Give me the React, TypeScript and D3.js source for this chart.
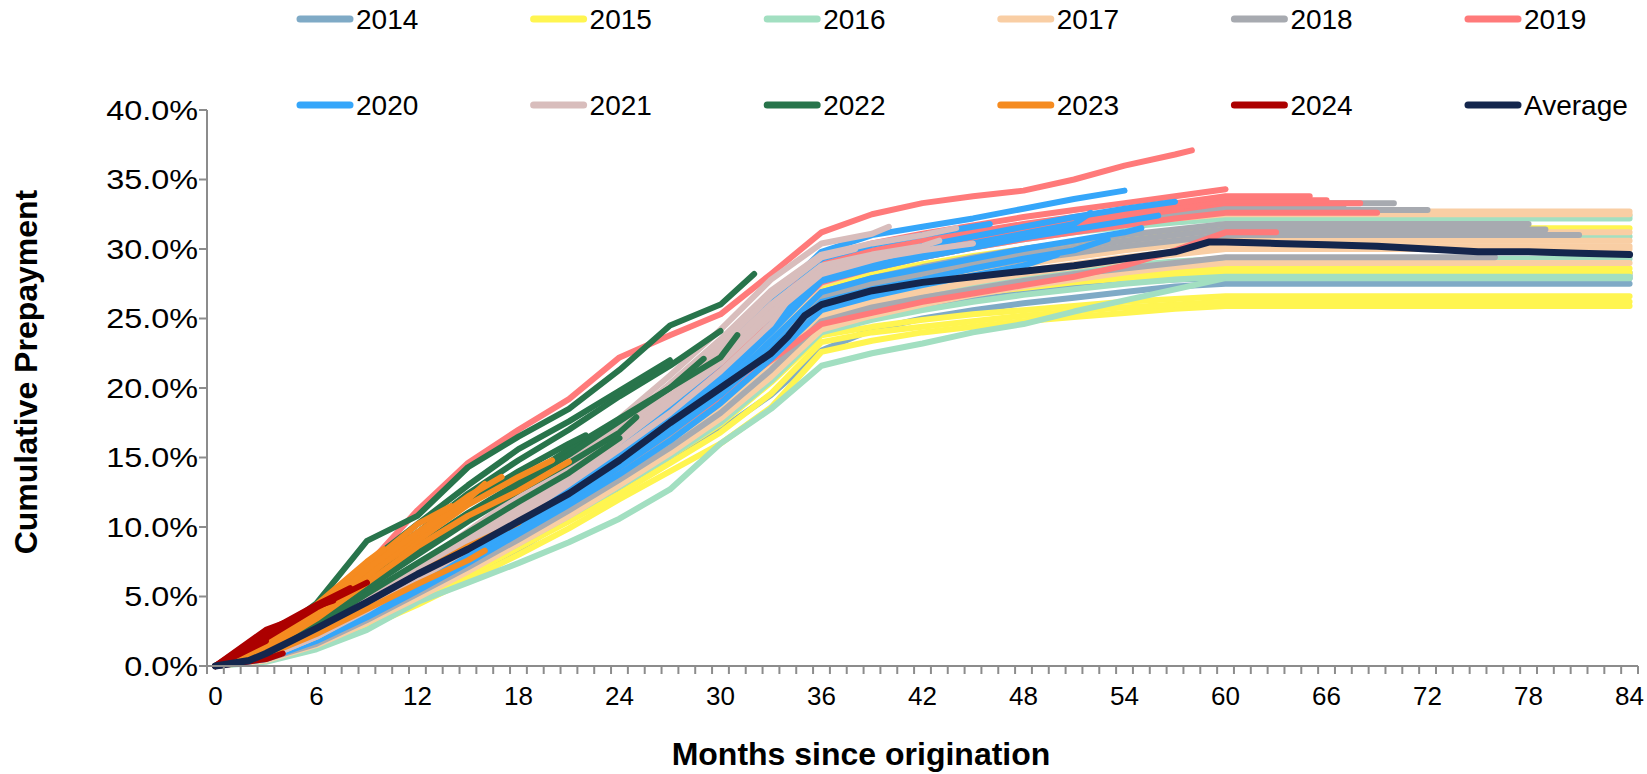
import React from "react";
import * as d3 from "d3";

// ---------- DATA ----------
const MONTH_GRID = [0, 3, 6, 9, 12, 15, 18, 21, 24, 27, 30, 33, 36, 39, 42, 45, 48, 51, 54, 57, 60];
const X_TICK_LABELS = [0, 6, 12, 18, 24, 30, 36, 42, 48, 54, 60, 66, 72, 78, 84];
const Y_TICKS = [0, 5, 10, 15, 20, 25, 30, 35, 40];
const LEGEND_ROW1 = ["2014", "2015", "2016", "2017", "2018", "2019"];
const LEGEND_ROW2 = ["2020", "2021", "2022", "2023", "2024", "Average"];

const Y2014 = [
  { end: 84, v: [0, 0.5, 1.6, 3.2, 5.0, 6.8, 8.6, 10.5, 12.6, 14.8, 17.0, 19.5, 22.7, 24.2, 25.0, 25.6, 26.1, 26.5, 26.9, 27.3, 27.5] },
  { end: 84, v: [0, 0.6, 1.9, 3.6, 5.4, 7.2, 9.2, 11.2, 13.4, 15.8, 18.4, 21.6, 25.0, 25.9, 26.5, 27.0, 27.4, 27.8, 28.0, 28.2, 28.3] },
  { end: 84, v: [0, 0.4, 1.4, 3.0, 4.8, 6.6, 8.4, 10.6, 12.8, 15.2, 17.8, 21.0, 24.4, 25.3, 26.0, 26.5, 27.0, 27.3, 27.6, 27.8, 27.9] },
  { end: 84, v: [0, 0.7, 2.1, 3.9, 5.8, 7.6, 9.6, 11.6, 13.8, 16.2, 18.9, 22.0, 25.4, 26.2, 26.8, 27.2, 27.5, 27.8, 27.9, 28.0, 28.1] },
];
const Y2015 = [
  { end: 84, v: [0, 0.4, 1.3, 2.8, 4.4, 6.2, 8.0, 9.9, 12.0, 14.0, 16.0, 18.6, 22.6, 23.4, 24.0, 24.4, 24.8, 25.1, 25.4, 25.7, 25.9] },
  { end: 84, v: [0, 0.5, 1.5, 3.1, 4.8, 6.6, 8.5, 10.4, 12.4, 14.6, 16.8, 19.6, 23.3, 24.0, 24.4, 24.8, 25.2, 25.5, 25.8, 26.0, 26.2] },
  { end: 84, v: [0, 0.5, 1.6, 3.3, 5.1, 6.9, 8.8, 10.8, 12.9, 15.1, 17.4, 20.4, 23.8, 24.4, 24.9, 25.3, 25.6, 25.9, 26.2, 26.4, 26.6] },
  { end: 84, v: [0, 0.6, 1.8, 3.6, 5.5, 7.4, 9.4, 11.5, 13.8, 16.2, 18.8, 21.8, 25.2, 26.0, 26.6, 27.1, 27.5, 27.9, 28.2, 28.4, 28.6] },
  { end: 84, v: [0, 0.7, 2.1, 4.0, 6.0, 8.0, 10.2, 12.4, 14.8, 17.4, 20.2, 23.6, 27.2, 28.2, 28.9, 29.5, 30.0, 30.5, 30.9, 31.2, 31.5] },
  { end: 84, v: [0, 0.5, 1.7, 3.4, 5.3, 7.2, 9.1, 11.2, 13.4, 15.6, 18.0, 21.0, 24.6, 25.6, 26.3, 26.8, 27.2, 27.6, 27.9, 28.1, 28.3] },
];
const Y2016 = [
  { end: 84, v: [0, 0.3, 1.2, 2.6, 4.6, 6.0, 7.4, 8.9, 10.6, 12.7, 16.0, 18.5, 21.6, 22.5, 23.2, 24.0, 24.6, 25.5, 26.3, 27.1, 27.9] },
  { end: 84, v: [0, 0.5, 1.6, 3.2, 5.0, 6.9, 8.8, 10.8, 12.9, 15.1, 17.5, 20.5, 24.0, 24.9, 25.6, 26.2, 26.7, 27.1, 27.5, 27.8, 28.0] },
  { end: 84, v: [0, 0.6, 1.8, 3.5, 5.4, 7.3, 9.3, 11.4, 13.6, 16.0, 18.6, 21.7, 25.2, 26.1, 26.8, 27.4, 27.9, 28.4, 28.8, 29.1, 29.3] },
  { end: 84, v: [0, 0.6, 1.9, 3.7, 5.7, 7.7, 9.8, 12.0, 14.3, 16.8, 19.5, 22.8, 26.4, 27.4, 28.1, 28.8, 29.4, 29.9, 30.3, 30.6, 30.9] },
  { end: 84, v: [0, 0.7, 2.1, 4.0, 6.1, 8.2, 10.4, 12.7, 15.1, 17.7, 20.5, 23.9, 27.6, 28.6, 29.4, 30.1, 30.7, 31.2, 31.6, 31.9, 32.2] },
  { end: 84, v: [0, 0.7, 2.2, 4.1, 6.2, 8.4, 10.6, 12.9, 15.3, 17.9, 20.8, 24.2, 27.9, 28.9, 29.7, 30.4, 31.0, 31.5, 31.9, 32.2, 32.4] },
];
const Y2017 = [
  { end: 84, v: [0, 0.7, 2.1, 4.0, 6.1, 8.2, 10.4, 12.8, 15.2, 17.9, 20.8, 24.2, 27.8, 28.8, 29.6, 30.4, 31.0, 31.6, 32.1, 32.4, 32.7] },
  { end: 84, v: [0, 0.6, 2.0, 3.9, 6.0, 8.1, 10.3, 12.6, 15.0, 17.6, 20.5, 23.9, 27.5, 28.6, 29.4, 30.2, 30.8, 31.4, 31.9, 32.2, 32.5] },
  { end: 84, v: [0, 0.6, 1.9, 3.7, 5.7, 7.7, 9.8, 12.0, 14.3, 16.8, 19.6, 22.9, 26.4, 27.4, 28.2, 28.9, 29.5, 30.0, 30.5, 30.9, 31.2] },
  { end: 84, v: [0, 0.5, 1.8, 3.5, 5.5, 7.5, 9.6, 11.7, 14.0, 16.4, 19.0, 22.2, 25.8, 26.8, 27.6, 28.3, 28.9, 29.4, 29.9, 30.3, 30.6] },
  { end: 84, v: [0, 0.5, 1.7, 3.4, 5.3, 7.3, 9.3, 11.4, 13.6, 16.0, 18.6, 21.7, 25.3, 26.3, 27.1, 27.8, 28.4, 28.9, 29.4, 29.8, 30.2] },
  { end: 84, v: [0, 0.6, 1.8, 3.6, 5.5, 7.4, 9.4, 11.5, 13.7, 16.1, 18.7, 21.8, 25.2, 26.1, 26.9, 27.6, 28.2, 28.7, 29.2, 29.6, 30.0] },
  { end: 84, v: [0, 0.4, 1.5, 3.1, 4.9, 6.8, 8.8, 10.8, 13.0, 15.3, 17.8, 20.8, 24.2, 25.2, 26.0, 26.7, 27.3, 27.8, 28.3, 28.7, 29.0] },
];
const Y2018 = [
  { end: 70, v: [0, 0.7, 2.3, 4.3, 6.5, 8.7, 10.9, 13.2, 15.6, 18.3, 21.2, 24.7, 28.4, 29.4, 30.2, 30.9, 31.5, 32.0, 32.5, 32.9, 33.3] },
  { end: 67, v: [0, 0.7, 2.2, 4.2, 6.4, 8.6, 10.8, 13.1, 15.5, 18.1, 21.0, 24.5, 28.2, 29.2, 30.0, 30.7, 31.3, 31.8, 32.3, 32.7, 33.1] },
  { end: 72, v: [0, 0.6, 2.1, 4.0, 6.1, 8.3, 10.5, 12.8, 15.2, 17.8, 20.7, 24.1, 27.8, 28.8, 29.6, 30.3, 30.9, 31.4, 31.9, 32.4, 32.8] },
  { end: 78, v: [0, 0.6, 2.0, 3.8, 5.9, 8.0, 10.1, 12.4, 14.7, 17.2, 20.0, 23.3, 26.9, 27.9, 28.7, 29.4, 30.0, 30.5, 31.0, 31.4, 31.8] },
  { end: 79, v: [0, 0.6, 1.9, 3.7, 5.7, 7.8, 9.9, 12.1, 14.4, 16.9, 19.6, 22.9, 26.5, 27.5, 28.3, 29.0, 29.6, 30.1, 30.6, 31.0, 31.4] },
  { end: 81, v: [0, 0.5, 1.8, 3.6, 5.6, 7.6, 9.7, 11.9, 14.2, 16.6, 19.3, 22.5, 26.1, 27.1, 27.9, 28.6, 29.2, 29.7, 30.2, 30.6, 31.0] },
  { end: 76, v: [0, 0.5, 1.6, 3.3, 5.2, 7.1, 9.1, 11.2, 13.4, 15.7, 18.2, 21.3, 24.8, 25.8, 26.5, 27.1, 27.7, 28.2, 28.6, 29.0, 29.4] },
];
const Y2019 = [
  { end: 69, v: [0, 0.6, 2.1, 4.0, 6.2, 8.4, 10.7, 13.0, 15.4, 18.0, 20.9, 24.2, 27.6, 28.6, 29.4, 30.1, 30.7, 31.2, 31.7, 32.2, 32.6] },
  { end: 68, v: [0, 0.7, 2.2, 4.2, 6.4, 8.6, 10.9, 13.2, 15.7, 18.3, 21.2, 24.6, 28.1, 29.1, 29.9, 30.6, 31.2, 31.8, 32.3, 32.8, 33.3] },
  { end: 66, v: [0, 0.7, 2.3, 4.3, 6.5, 8.7, 11.0, 13.3, 15.8, 18.5, 21.4, 24.9, 28.5, 29.5, 30.3, 30.9, 31.5, 32.0, 32.5, 33.0, 33.5] },
  { end: 65, v: [0, 0.7, 2.4, 4.4, 6.6, 8.8, 11.1, 13.5, 16.0, 18.7, 21.6, 25.2, 28.9, 29.9, 30.6, 31.2, 31.8, 32.3, 32.8, 33.3, 33.8] },
  { end: 63, v: [0, 0.6, 1.9, 3.7, 5.7, 7.7, 9.8, 12.0, 14.3, 16.8, 19.4, 22.0, 24.6, 25.4, 26.2, 26.8, 27.4, 28.0, 28.8, 29.9, 31.2] },
  { end: 60, v: [0, 0.8, 2.6, 4.6, 6.8, 9.0, 11.4, 13.8, 16.3, 19.0, 22.0, 25.6, 29.4, 30.4, 31.1, 31.7, 32.3, 32.8, 33.3, 33.8, 34.3] },
  { end: 58, v: [0, 1.2, 3.6, 7.2, 11.2, 14.6, 17.0, 19.2, 22.2, 23.8, 25.3, 28.2, 31.2, 32.5, 33.3, 33.8, 34.2, 35.0, 36.0, 36.8, 37.1] },
];
const Y2020 = [
  { end: 57, v: [0, 0.7, 2.3, 4.2, 6.3, 8.4, 10.6, 12.9, 15.3, 18.0, 21.0, 24.6, 28.4, 29.4, 30.2, 30.9, 31.6, 32.3, 32.9, 33.4] },
  { end: 56, v: [0, 0.6, 2.1, 4.0, 6.1, 8.2, 10.4, 12.6, 15.0, 17.6, 20.5, 24.0, 27.7, 28.6, 29.4, 30.1, 30.8, 31.4, 32.0, 32.4] },
  { end: 55, v: [0, 0.6, 2.0, 3.9, 5.9, 8.0, 10.1, 12.3, 14.6, 17.2, 20.0, 23.4, 26.9, 27.9, 28.6, 29.3, 30.0, 30.6, 31.2, 31.5] },
  { end: 54, v: [0, 0.8, 2.6, 4.6, 6.9, 9.2, 11.6, 14.0, 16.6, 19.5, 22.7, 26.3, 29.8, 31.0, 31.6, 32.2, 32.9, 33.6, 34.2] },
  { end: 53, v: [0, 0.6, 1.9, 3.7, 5.7, 7.7, 9.8, 12.0, 14.3, 16.8, 19.5, 22.8, 26.2, 27.1, 27.8, 28.6, 29.3, 29.9, 30.7] },
  { end: 52, v: [0, 0.7, 2.2, 4.1, 6.2, 8.3, 10.5, 12.8, 15.2, 17.8, 20.7, 24.2, 27.9, 28.9, 29.7, 30.4, 31.1, 31.8, 32.6] },
  { end: 50, v: [0, 0.5, 1.8, 3.5, 5.4, 7.4, 9.5, 11.6, 13.8, 16.2, 18.9, 22.1, 25.6, 26.6, 27.4, 28.1, 28.8, 29.6] },
  { end: 46, v: [0, 0.7, 2.3, 4.3, 6.5, 8.7, 11.0, 13.4, 15.9, 18.7, 21.8, 25.5, 29.3, 30.3, 31.0, 31.6, 31.8] },
];
const Y2021 = [
  { end: 45, v: [0, 0.7, 2.3, 4.3, 6.6, 8.9, 11.3, 13.8, 16.5, 19.4, 22.4, 25.8, 28.5, 29.3, 29.9, 30.4] },
  { end: 44, v: [0, 0.8, 2.5, 4.6, 7.0, 9.4, 11.9, 14.5, 17.3, 20.3, 23.5, 27.0, 29.6, 30.4, 31.0, 31.5] },
  { end: 43, v: [0, 0.7, 2.3, 4.4, 6.7, 9.0, 11.5, 14.0, 16.7, 19.6, 22.6, 26.0, 28.8, 29.6, 30.2, 30.6] },
  { end: 41, v: [0, 0.6, 2.1, 4.1, 6.3, 8.6, 11.0, 13.5, 16.1, 18.9, 21.8, 25.2, 28.2, 29.2, 29.8] },
  { end: 40, v: [0, 0.8, 2.6, 4.8, 7.2, 9.7, 12.3, 15.0, 17.8, 20.9, 24.2, 27.8, 30.4, 31.1, 31.6] },
  { end: 38, v: [0, 0.7, 2.4, 4.5, 6.8, 9.2, 11.7, 14.3, 17.0, 19.9, 23.1, 26.6, 29.4, 30.0] },
  { end: 36, v: [0, 0.7, 2.3, 4.3, 6.5, 8.8, 11.2, 13.7, 16.3, 19.1, 22.1, 25.4, 28.5] },
  { end: 34, v: [0, 0.6, 2.1, 4.0, 6.2, 8.4, 10.7, 13.1, 15.6, 18.2, 21.2, 24.6, 26.3] },
];
const Y2022 = [
  { end: 32, v: [0, 1.8, 4.5, 9.0, 10.8, 14.3, 16.5, 18.5, 21.3, 24.5, 26.0, 28.2] },
  { end: 31, v: [0, 1.2, 3.6, 6.2, 8.6, 11.0, 13.2, 15.6, 17.8, 20.0, 22.2, 23.8] },
  { end: 30, v: [0, 1.4, 4.0, 7.0, 9.6, 12.4, 14.8, 17.0, 19.4, 21.6, 24.1] },
  { end: 29, v: [0, 1.1, 3.4, 6.0, 8.4, 10.8, 13.0, 15.2, 17.6, 20.0, 22.1] },
  { end: 27, v: [0, 1.5, 4.2, 7.4, 10.2, 13.0, 15.6, 17.6, 19.8, 22.0] },
  { end: 25, v: [0, 1.0, 3.2, 5.6, 8.0, 10.4, 12.6, 14.6, 16.8, 17.9] },
  { end: 24, v: [0, 0.9, 2.9, 5.2, 7.4, 9.6, 11.8, 13.9, 16.4] },
  { end: 22, v: [0, 1.3, 3.9, 6.8, 9.4, 11.8, 14.0, 16.0, 16.6] },
];
const Y2023 = [
  { end: 21, v: [0, 1.2, 3.4, 6.0, 8.6, 10.8, 12.6, 14.7] },
  { end: 20, v: [0, 1.3, 3.8, 6.6, 9.0, 11.6, 13.6, 14.8] },
  { end: 18, v: [0, 0.9, 2.6, 4.6, 6.6, 8.6, 10.3] },
  { end: 17, v: [0, 1.3, 3.8, 6.8, 9.6, 12.2, 13.6] },
  { end: 16, v: [0, 1.2, 3.6, 6.4, 9.4, 12.0, 13.1] },
  { end: 16, v: [0, 0.8, 2.3, 4.1, 5.9, 7.6, 8.3] },
  { end: 14, v: [0, 1.4, 4.0, 7.2, 10.2, 11.5] },
  { end: 12, v: [0, 1.3, 3.9, 7.0, 9.6] },
  { end: 10, v: [0, 1.5, 4.4, 7.5, 8.4] },
];
const Y2024 = [
  { end: 9, v: [0, 2.0, 4.2, 6.0] },
  { end: 8, v: [0, 2.4, 4.4, 5.6] },
  { end: 7, v: [0, 2.2, 4.3, 4.7] },
  { end: 5, v: [0, 2.6, 3.5] },
  { end: 4, v: [0, 0.5, 0.9] },
  { end: 3, v: [0, 1.8] },
];

const AVG_MONTHS = [0, 2, 3, 6, 9, 12, 15, 18, 21, 24, 27, 30, 33, 34, 35, 36, 39, 42, 45, 48, 51, 54, 57, 59, 60, 63, 66, 69, 72, 75, 78, 81, 84];
const AVG_VALUES = [0, 0.4, 0.9, 2.7, 4.6, 6.6, 8.4, 10.4, 12.4, 14.8, 17.5, 20.0, 22.5, 23.7, 25.2, 26.0, 27.0, 27.6, 28.0, 28.4, 28.8, 29.3, 29.8, 30.5, 30.5, 30.4, 30.3, 30.2, 30.0, 29.8, 29.8, 29.7, 29.6];

const YEARS = ["2014", "2015", "2016", "2017", "2018", "2019", "2020", "2021", "2022", "2023", "2024"];
const YEAR_SERIES = [Y2014, Y2015, Y2016, Y2017, Y2018, Y2019, Y2020, Y2021, Y2022, Y2023, Y2024];
const COLORS: Record<string, string> = {
  "2014": "#7FAAC6",
  "2015": "#FFF550",
  "2016": "#A2DFC1",
  "2017": "#F9CEA4",
  "2018": "#A7AAB0",
  "2019": "#FF7A7A",
  "2020": "#35A6FA",
  "2021": "#D8BDBC",
  "2022": "#28744B",
  "2023": "#F58B20",
  "2024": "#AC0000",
  Average: "#14264D",
};

// ---------- LAYOUT ----------
const W = 1647;
const H = 774;
const FONT = "'Liberation Sans', Arial, sans-serif";
const PLOT = { left: 207, right: 1638, top: 110, bottom: 666 };

function toPoints(s: { end: number; v: number[] }): [number, number][] {
  const last = Math.min(s.end, 60);
  const months = MONTH_GRID.filter((m) => m < last).concat([last]);
  const pts: [number, number][] = [];
  months.forEach((m, i) => {
    if (s.v[i] !== undefined) pts.push([m, s.v[i]]);
  });
  if (s.end > 60) pts.push([s.end, pts[pts.length - 1][1]]);
  return pts;
}

export default function App() {
  const x = d3.scaleLinear().domain([-0.5, 84.5]).range([PLOT.left, PLOT.right]);
  const y = d3.scaleLinear().domain([0, 40]).range([PLOT.bottom, PLOT.top]);
  const line = d3
    .line<[number, number]>()
    .x((d) => x(d[0]))
    .y((d) => y(d[1]));

  const boundaries = d3.range(0, 86).map((i) => i - 0.5);
  const avgPts: [number, number][] = AVG_MONTHS.map((m, i) => [m, AVG_VALUES[i]]);

  const legendX0 = 297;
  const legendStep = 233.6;
  const legendRows = [
    { items: LEGEND_ROW1, y: 19 },
    { items: LEGEND_ROW2, y: 105 },
  ];

  return (
    <svg
      width={W}
      height={H}
      style={{ position: "fixed", left: 0, top: 0, background: "#fff" }}
      fontFamily={FONT}
    >
      <rect x={0} y={0} width={W} height={H} fill="#fff" />
      {/* legend */}
      {legendRows.map((row, ri) =>
        row.items.map((name, i) => {
          const lx = legendX0 + i * legendStep;
          return (
            <g key={`${ri}-${name}`}>
              <line
                x1={lx + 3}
                x2={lx + 53}
                y1={row.y}
                y2={row.y}
                stroke={COLORS[name]}
                strokeWidth={7}
                strokeLinecap="round"
              />
              <text x={lx + 59} y={row.y} dy="0.36em" fontSize={28} fill="#000">
                {name}
              </text>
            </g>
          );
        })
      )}

      {/* series */}
      <g fill="none" strokeLinecap="round" strokeLinejoin="round">
        {YEAR_SERIES.map((list, yi) =>
          list.map((s, si) => (
            <path
              key={`${YEARS[yi]}-${si}`}
              d={line(toPoints(s)) || ""}
              stroke={COLORS[YEARS[yi]]}
              strokeWidth={6}
            />
          ))
        )}
        <path d={line(avgPts) || ""} stroke={COLORS.Average} strokeWidth={7} />
      </g>

      {/* y axis */}
      <line x1={PLOT.left} x2={PLOT.left} y1={PLOT.top} y2={PLOT.bottom} stroke="#8C8C8C" strokeWidth={2} />
      {Y_TICKS.map((t) => (
        <g key={`y${t}`}>
          <line x1={PLOT.left - 8} x2={PLOT.left} y1={y(t)} y2={y(t)} stroke="#8C8C8C" strokeWidth={2} />
          <g transform={`translate(${PLOT.left - 9},${y(t)}) scale(1.2,1)`}>
            <text x={0} y={0} dy="0.36em" textAnchor="end" fontSize={27} fill="#000">
              {`${t.toFixed(1)}%`}
            </text>
          </g>
        </g>
      ))}

      {/* x axis */}
      <line x1={PLOT.left} x2={PLOT.right} y1={PLOT.bottom} y2={PLOT.bottom} stroke="#8C8C8C" strokeWidth={2} />
      {boundaries.map((b) => (
        <line key={`xt${b}`} x1={x(b)} x2={x(b)} y1={PLOT.bottom} y2={PLOT.bottom + 8} stroke="#8C8C8C" strokeWidth={2} />
      ))}
      {X_TICK_LABELS.map((m) => (
        <text key={`xl${m}`} x={x(m)} y={705} textAnchor="middle" fontSize={26} fill="#000">
          {m}
        </text>
      ))}

      {/* titles */}
      <text x={861} y={765} textAnchor="middle" fontSize={32} fontWeight="bold" fill="#000">
        Months since origination
      </text>
      <text
        transform="translate(37,372) rotate(-90)"
        textAnchor="middle"
        fontSize={32}
        fontWeight="bold"
        fill="#000"
      >
        Cumulative Prepayment
      </text>
    </svg>
  );
}
